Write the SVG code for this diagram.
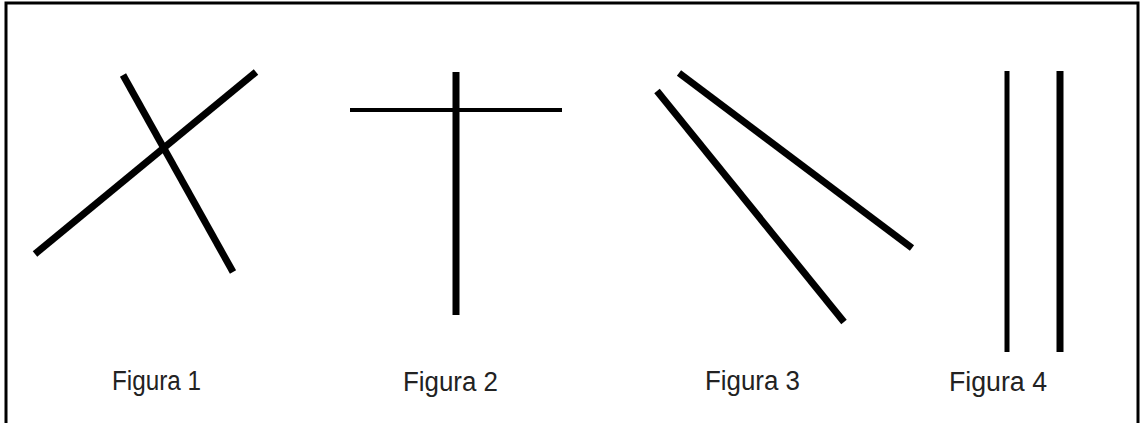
<svg xmlns="http://www.w3.org/2000/svg" width="1143" height="423" viewBox="0 0 1143 423">
<style>
.ln{stroke:#000;stroke-linecap:butt;fill:none}
.lbl{font-family:"Liberation Sans",Arial,sans-serif;font-size:27px;fill:#222}
</style>
<rect x="0" y="0" width="1143" height="423" fill="#fff"/>
<rect x="6" y="3" width="1132" height="440" fill="none" stroke="#000" stroke-width="3"/>
<g id="fig1">
<line class="ln" x1="123" y1="75" x2="233" y2="272" stroke-width="7"/>
<line class="ln" x1="35" y1="254" x2="256" y2="72" stroke-width="7"/>
<text class="lbl" x="112" y="390" textLength="89" lengthAdjust="spacingAndGlyphs">Figura 1</text>
</g>
<g id="fig2">
<line class="ln" x1="350" y1="110" x2="562" y2="110" stroke-width="4"/>
<line class="ln" x1="456" y1="72" x2="456" y2="315" stroke-width="7"/>
<text class="lbl" x="403" y="391" textLength="95" lengthAdjust="spacingAndGlyphs">Figura 2</text>
</g>
<g id="fig3">
<line class="ln" x1="657" y1="91" x2="844" y2="322" stroke-width="7"/>
<line class="ln" x1="679" y1="73" x2="912" y2="248" stroke-width="7"/>
<text class="lbl" x="705" y="390" textLength="95" lengthAdjust="spacingAndGlyphs">Figura 3</text>
</g>
<g id="fig4">
<line class="ln" x1="1007" y1="71" x2="1007" y2="352" stroke-width="5"/>
<line class="ln" x1="1060" y1="71" x2="1060" y2="352" stroke-width="7"/>
<text class="lbl" x="949" y="391" textLength="98" lengthAdjust="spacingAndGlyphs">Figura 4</text>
</g>
<g id="connectors"/>
</svg>
